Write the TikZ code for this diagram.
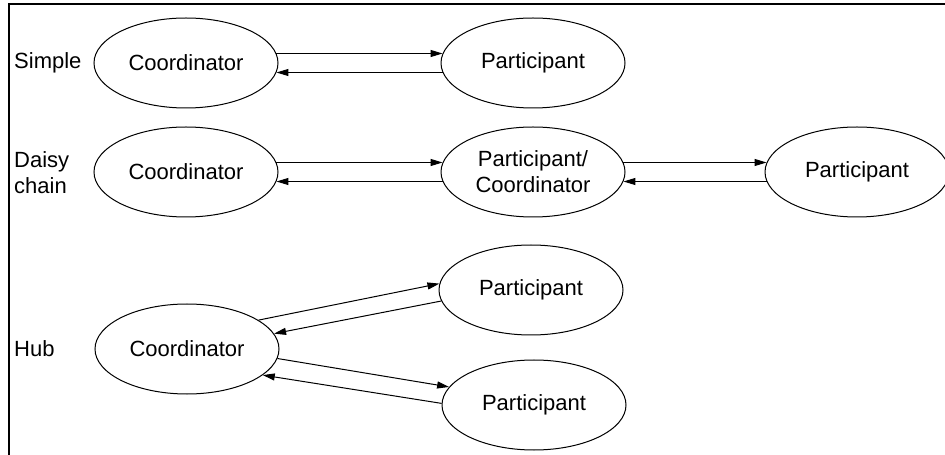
\documentclass[tikz,border=0pt]{standalone}
\usepackage{fontspec}
\setmainfont{Liberation Sans}
\usetikzlibrary{arrows.meta}
\usetikzlibrary{positioning, shapes.geometric}

\tikzset{
    party/.style={ellipse, draw, line width=1bp, minimum width=184bp, minimum height=90bp, inner sep=0pt, align=center},
    lbl/.style={anchor=west, inner sep=0pt, align=left},
    msg/.style={-{Triangle[length=12bp, width=7bp]}, line width=1bp},
}

\begin{document}
\begin{tikzpicture}[x=1bp, y=-1bp, font=\fontsize{22bp}{26bp}\selectfont]
        \useasboundingbox (0,0) rectangle (945,455);
        \coordinate (tl) at (9,4);
        \coordinate (tr) at (945,4);
        \coordinate (bl) at (9,455);
        \draw[line width=1.2bp] (bl) -- (tl) -- (tr);

        % simple
        \node[lbl] (lsimple) at (14,63) {Simple};
        \node[party] (sc) at (186,63) {Coordinator};
        \node[party, right=162bp of sc] (sp) {Participant};
        \draw[msg] (sc.6) -- (sp.174);
        \draw[msg] (sp.186) -- (sc.354);

        % daisy chain
        \node[lbl] (ldaisy) at (14,173) {Daisy\\chain};
        \node[party] (dc) at (186,172) {Coordinator};
        \node[party, right=162bp of dc] (dm) {Participant/\\Coordinator};
        \node[party, right=139bp of dm] (dp) {Participant};
        \draw[msg] (dc.6) -- (dm.174);
        \draw[msg] (dm.186) -- (dc.354);
        \draw[msg] (dm.6) -- (dp.174);
        \draw[msg] (dp.186) -- (dm.354);

        % hub
        \node[lbl] (lhub) at (14,349) {Hub};
        \node[party] (hc) at (187,349) {Coordinator};
        \node[party] (hpa) at (531,290) {Participant};
        \node[party] (hpb) at (534,405) {Participant};
        \draw[msg] (hc.22) -- (hpa.176);
        \draw[msg] (hpa.187) -- (hc.10);
        \draw[msg] (hc.354) -- (hpb.168);
        \draw[msg] (hpb.179) -- (hc.341);
    \end{tikzpicture}
\end{document}
